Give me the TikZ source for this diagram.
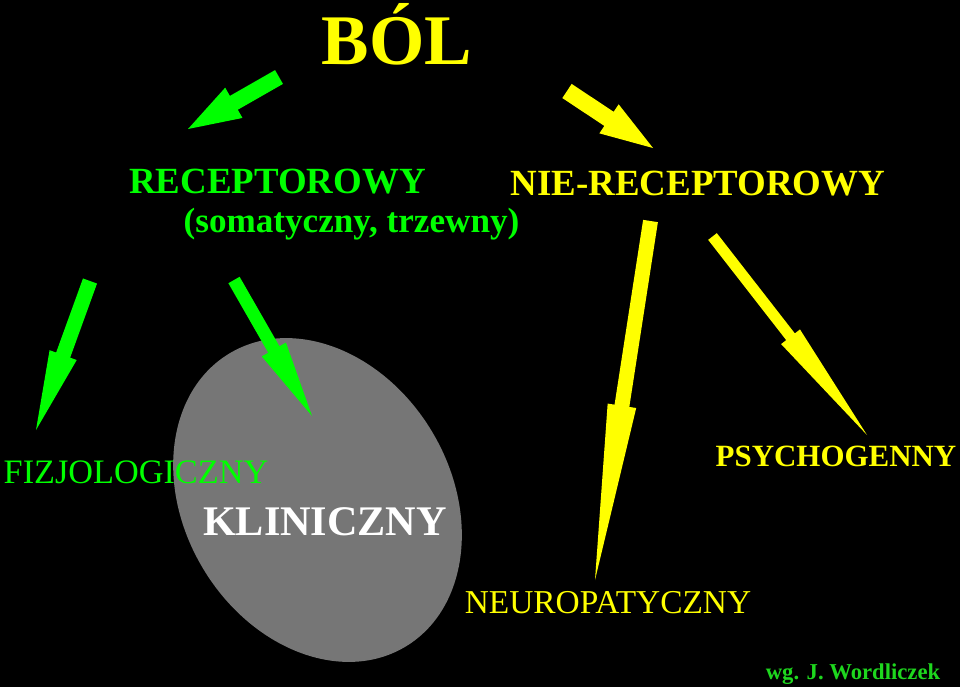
\documentclass[tikz,border=0pt]{standalone}
\usepackage{fontspec}
\setmainfont{Liberation Serif}
\usetikzlibrary{calc}
\definecolor{recgreen}{RGB}{0,255,0}
\definecolor{nrecyellow}{RGB}{255,255,0}
\definecolor{clingray}{RGB}{118,118,118}
\definecolor{authgreen}{RGB}{30,215,30}
\def\px{0.5669pt}
\def\blockarrow[#1](#2)(#3)(#4:#5:#6){%
	\coordinate (hb) at ($(#3)!#6*\px!(#2)$);
	\fill[#1] ($(#2)!#4*\px!90:(#3)$) -- ($(hb)!#4*\px!90:(#3)$) -- ($(hb)!#5*\px!90:(#3)$) -- (#3)
		-- ($(hb)!#5*\px!-90:(#3)$) -- ($(hb)!#4*\px!-90:(#3)$) -- ($(#2)!#4*\px!-90:(#3)$) -- cycle;}
\tikzset{lbl/.style={inner sep=0pt, anchor=base}}

\begin{document}
\begin{tikzpicture}[x=0.02cm, y=0.02cm]
			%%%%% START %%%%%
			
			\fill[black] (0, 0) rectangle (960, -687);
			\useasboundingbox (0, 0) rectangle (960, -687);
			
			\fill[clingray, rotate around={-59:(317.5, -500)}] (317.5, -500) ellipse [x radius=171, y radius=133.4];
			
			\node[lbl, text=nrecyellow, font=\fontsize{40.5}{40.5}\selectfont\bfseries] (bol) at (397, -64) {BÓL};
			
			\node[lbl, text=recgreen, font=\fontsize{21}{21}\selectfont\bfseries] (rec) at (277.5, -193) {RECEPTOROWY};
			\node[lbl, text=recgreen, font=\fontsize{20}{20}\selectfont\bfseries] (recsub) at (351.5, -232) {(somatyczny, trzewny)};
			\node[lbl, text=nrecyellow, font=\fontsize{21}{21}\selectfont\bfseries] (nrec) at (698, -195) {NIE-RECEPTOROWY};
			
			\node[lbl, text=recgreen, font=\fontsize{19.5}{19.5}\selectfont] (fizj) at (136, -483) {FIZJOLOGICZNY};
			\node[lbl, text=white, font=\fontsize{24}{24}\selectfont\bfseries] (klin) at (325, -535) {KLINICZNY};
			\node[lbl, text=nrecyellow, font=\fontsize{17.6}{17.6}\selectfont\bfseries] (psych) at (836, -466) {PSYCHOGENNY};
			\node[lbl, text=nrecyellow, font=\fontsize{19}{19}\selectfont] (neuro) at (608, -613) {NEUROPATYCZNY};
			
			\node[lbl, text=authgreen, font=\fontsize{12.9}{12.9}\selectfont\bfseries] (auth) at (853, -679) {wg. J. Wordliczek};
			
			% arrow ends
			\coordinate (recTail) at (279, -77);
			\coordinate (recTip) at (188, -129);
			\coordinate (nrecTail) at (567, -91);
			\coordinate (nrecTip) at (653, -148);
			\coordinate (fizjTail) at (90, -281);
			\coordinate (fizjTip) at (36, -430);
			\coordinate (klinTail) at (234, -280);
			\coordinate (klinTip) at (312, -416);
			\coordinate (neuroTail) at (650.5, -221);
			\coordinate (neuroTip) at (595, -580);
			\coordinate (psychTail) at (712.5, -236.5);
			\coordinate (psychTip) at (867, -435);
			
			\blockarrow[recgreen](recTail)(recTip)(8:17.5:53)
			\blockarrow[nrecyellow](nrecTail)(nrecTip)(8.5:17.5:53)
			\blockarrow[recgreen](fizjTail)(fizjTip)(7.5:14.5:80)
			\blockarrow[recgreen](klinTail)(klinTip)(6.5:14:77)
			\blockarrow[nrecyellow](neuroTail)(neuroTip)(7.5:14.5:177)
			\blockarrow[nrecyellow](psychTail)(psychTip)(5.5:12:125)
			
			%%%%% END %%%%%
\end{tikzpicture}
\end{document}
